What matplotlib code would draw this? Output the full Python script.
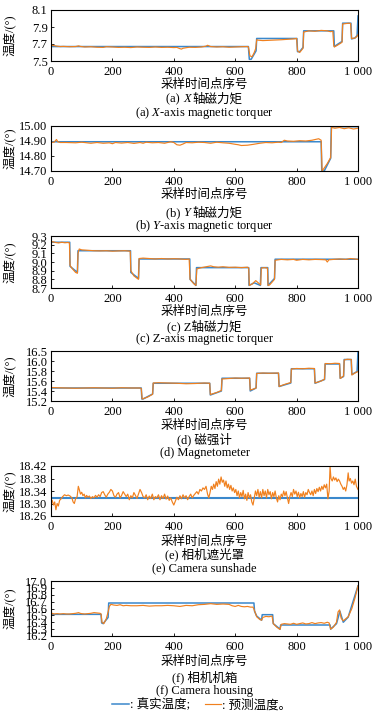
import numpy as np
import matplotlib
matplotlib.use('Agg')
import matplotlib.pyplot as plt

plt.rcParams['font.family'] = ['Liberation Serif', 'Noto Sans CJK SC']
plt.rcParams['mathtext.fontset'] = 'custom'
plt.rcParams['mathtext.rm'] = 'Liberation Serif'
plt.rcParams['mathtext.it'] = 'Liberation Serif:italic'
plt.rcParams['font.size'] = 9
plt.rcParams['axes.unicode_minus'] = False

# ---------------- data ----------------
x_ticks = [0, 200, 400, 600, 800, 1000]
x_ticklabels = ['0', '200', '400', '600', '800', '1 000']

# (a) X-axis magnetic torquer
a_true_x = [0, 643, 646, 652, 668, 670, 801, 803, 810, 821, 823, 921, 923, 935, 948, 950, 977, 979, 990, 997, 1000]
a_true_y = [7.67, 7.67, 7.52, 7.52, 7.62, 7.765, 7.765, 7.61, 7.61, 7.66, 7.855, 7.855, 7.67, 7.70, 7.73, 7.945, 7.945, 7.76, 7.77, 7.80, 8.03]
a_pred_x = [0, 5, 10, 20, 30, 40, 60, 80, 90, 95, 110, 130, 150, 170, 180, 200, 220, 240, 260, 280, 300, 320, 340, 360,
            380, 400, 410, 420, 425, 430, 450, 470, 490, 505, 510, 520, 540, 560, 580, 600, 620, 640, 643, 648, 655, 662,
            667, 670, 675, 690, 720, 750, 770, 790, 800, 803, 810, 821, 823, 840, 860, 880, 900, 910, 918, 921, 923, 935,
            948, 950, 960, 970, 976, 979, 990, 997, 1000]
a_pred_y = [7.675, 7.685, 7.68, 7.675, 7.67, 7.672, 7.668, 7.67, 7.678, 7.672, 7.665, 7.668, 7.662, 7.66, 7.668, 7.665,
            7.66, 7.662, 7.658, 7.665, 7.662, 7.66, 7.665, 7.66, 7.662, 7.658, 7.66, 7.645, 7.64, 7.65, 7.662, 7.66,
            7.665, 7.675, 7.685, 7.67, 7.665, 7.668, 7.662, 7.665, 7.668, 7.67, 7.665, 7.56, 7.55, 7.60, 7.65, 7.75,
            7.745, 7.74, 7.745, 7.75, 7.755, 7.76, 7.765, 7.62, 7.60, 7.65, 7.84, 7.855, 7.85, 7.86, 7.855, 7.845,
            7.85, 7.68, 7.665, 7.69, 7.72, 7.935, 7.94, 7.945, 7.94, 7.765, 7.77, 7.79, 7.81]

# (b) Y-axis magnetic torquer
b_true_x = [0, 880, 882, 890, 911, 913, 1000]
b_true_y = [14.895, 14.895, 14.70, 14.70, 14.785, 14.995, 14.995]
b_pred_x = [0, 10, 18, 22, 30, 50, 80, 100, 130, 150, 170, 190, 200, 210, 230, 250, 270, 290, 300, 310, 330, 350, 370,
            390, 400, 410, 420, 430, 440, 460, 480, 500, 520, 540, 560, 580, 600, 610, 620, 640, 660, 680, 700, 720,
            740, 750, 760, 770, 790, 810, 830, 850, 865, 872, 880, 883, 890, 900, 911, 914, 925, 940, 955, 970, 985, 1000]
b_pred_y = [14.89, 14.892, 14.91, 14.895, 14.89, 14.89, 14.888, 14.892, 14.885, 14.89, 14.885, 14.888, 14.882, 14.89,
            14.886, 14.89, 14.884, 14.89, 14.885, 14.892, 14.888, 14.89, 14.885, 14.895, 14.89, 14.875, 14.872, 14.88,
            14.89, 14.888, 14.892, 14.89, 14.885, 14.892, 14.888, 14.885, 14.878, 14.875, 14.87, 14.872, 14.878,
            14.885, 14.89, 14.888, 14.892, 14.89, 14.905, 14.9, 14.898, 14.902, 14.9, 14.905, 14.912, 14.915, 14.905,
            14.70, 14.72, 14.75, 14.79, 14.99, 14.985, 14.99, 14.982, 14.988, 14.98, 14.985]

# (c) Z-axis magnetic torquer
c_true_x = [0, 61, 62, 86, 88, 259, 260, 285, 287, 452, 453, 472, 474, 644, 645, 662, 682, 684, 706, 707, 728, 730, 1000]
c_true_y = [9.228, 9.228, 8.95, 8.88, 9.13, 9.13, 8.88, 8.81, 9.035, 9.035, 8.80, 8.73, 8.935, 8.935, 8.73, 8.76, 8.73,
            8.935, 8.935, 8.73, 8.81, 9.032, 9.032]
c_pred_x = [0, 5, 15, 25, 35, 45, 55, 60, 62, 70, 80, 86, 88, 92, 100, 120, 140, 160, 180, 200, 220, 240, 258, 260, 270,
            285, 287, 300, 320, 340, 360, 380, 400, 420, 440, 450, 453, 465, 472, 475, 490, 505, 520, 530, 545, 560,
            580, 600, 620, 640, 644, 646, 655, 667, 675, 683, 685, 695, 705, 707, 712, 728, 730, 750, 770, 790, 800,
            820, 840, 860, 880, 895, 900, 905, 920, 940, 960, 975, 990, 1000]
c_pred_y = [9.22, 9.235, 9.225, 9.22, 9.228, 9.222, 9.225, 9.22, 8.96, 8.92, 8.88, 8.87, 9.10, 9.15, 9.14, 9.135, 9.13,
            9.128, 9.13, 9.125, 9.128, 9.13, 9.125, 8.90, 8.84, 8.80, 9.04, 9.045, 9.04, 9.035, 9.04, 9.035, 9.038,
            9.035, 9.03, 9.035, 8.80, 8.75, 8.73, 8.92, 8.935, 8.945, 8.955, 8.945, 8.94, 8.945, 8.938, 8.94, 8.935,
            8.94, 8.93, 8.73, 8.745, 8.785, 8.76, 8.735, 8.93, 8.935, 8.93, 8.73, 8.735, 8.80, 9.02, 9.03, 9.025, 9.03,
            9.02, 9.03, 9.025, 9.03, 9.028, 9.025, 9.00, 9.025, 9.03, 9.035, 9.03, 9.04, 9.035, 9.03]

# (d) Magnetometer
d_true_x = [0, 294, 296, 300, 331, 333, 517, 519, 555, 557, 647, 649, 668, 670, 741, 743, 781, 783, 858, 860, 891, 893,
            940, 942, 953, 955, 978, 980, 997, 1000]
d_true_y = [15.46, 15.46, 15.24, 15.24, 15.34, 15.555, 15.555, 15.32, 15.40, 15.655, 15.655, 15.40, 15.46, 15.755,
            15.755, 15.49, 15.56, 15.845, 15.845, 15.555, 15.63, 15.94, 15.94, 15.655, 15.69, 16.03, 16.03, 15.73,
            15.79, 16.2]
d_pred_x = [0, 20, 50, 80, 110, 140, 170, 200, 230, 260, 290, 294, 297, 315, 331, 333, 350, 380, 410, 440, 470, 500,
            517, 519, 540, 555, 557, 580, 600, 620, 647, 649, 660, 668, 670, 690, 710, 741, 743, 760, 781, 783, 800,
            820, 840, 858, 860, 880, 891, 893, 910, 925, 940, 942, 953, 955, 965, 978, 980, 990, 1000]
d_pred_y = [15.47, 15.465, 15.46, 15.455, 15.46, 15.465, 15.46, 15.455, 15.465, 15.46, 15.46, 15.45, 15.24, 15.28,
            15.335, 15.56, 15.565, 15.56, 15.555, 15.545, 15.55, 15.56, 15.555, 15.33, 15.37, 15.41, 15.64, 15.65,
            15.66, 15.655, 15.66, 15.42, 15.44, 15.46, 15.75, 15.76, 15.755, 15.76, 15.49, 15.53, 15.57, 15.84, 15.85,
            15.845, 15.855, 15.85, 15.56, 15.6, 15.635, 15.95, 15.945, 15.955, 15.95, 15.65, 15.70, 16.02, 16.035,
            16.03, 15.72, 15.76, 15.79]

# (e) Camera sunshade
e_true_x = [0, 1000]
e_true_y = [18.318, 18.318]
e_pred_x = [0, 4, 8, 12, 16, 20, 24, 28, 33, 38, 44, 50, 56, 62, 68, 72, 76, 80, 85, 89, 92, 96, 100, 104, 108, 112,
            116, 120, 125, 130, 135, 140, 145, 150, 155, 160, 165, 170, 175, 180, 185, 190, 195, 200, 205, 210, 215,
            220, 225, 230, 235, 240, 245, 250, 255, 260, 265, 270, 275, 280, 285, 290, 295, 300, 305, 310, 315, 320,
            325, 330, 335, 340, 345, 350, 355, 360, 365, 370, 375, 380, 385, 390, 395, 400, 405, 410, 415, 420, 425,
            430, 435, 440, 445, 450, 455, 460, 465, 470, 475, 480, 485, 490, 495, 500, 505, 510, 514, 518, 522, 526,
            530, 534, 538, 542, 546, 550, 554, 558, 562, 566, 570, 574, 578, 582, 586, 590, 594, 598, 602, 606, 610,
            614, 618, 622, 626, 630, 634, 638, 642, 646, 650, 654, 658, 662, 666, 670, 674, 678, 682, 686, 690, 694,
            698, 702, 706, 710, 714, 718, 722, 726, 730, 734, 738, 742, 746, 750, 754, 758, 762, 766, 770, 774, 778,
            782, 786, 790, 794, 798, 802, 806, 810, 814, 818, 822, 826, 830, 834, 838, 842, 846, 850, 854, 858, 862,
            866, 870, 874, 878, 882, 886, 890, 894, 898, 902, 906, 909, 912, 916, 920, 924, 928, 932, 936, 940, 944,
            948, 952, 956, 960, 964, 968, 971, 975, 979, 983, 987, 991, 995, 1000]
e_pred_y = [18.300, 18.310, 18.295, 18.305, 18.280, 18.300, 18.292, 18.310, 18.315, 18.322, 18.328, 18.325, 18.327,
            18.324, 18.318, 18.305, 18.300, 18.315, 18.322, 18.355, 18.345, 18.330, 18.336, 18.325, 18.330, 18.318,
            18.326, 18.320, 18.324, 18.316, 18.322, 18.318, 18.326, 18.320, 18.328, 18.322, 18.335, 18.338, 18.328,
            18.320, 18.330, 18.336, 18.345, 18.340, 18.325, 18.320, 18.330, 18.335, 18.318, 18.326, 18.338, 18.330,
            18.322, 18.330, 18.312, 18.325, 18.318, 18.335, 18.326, 18.316, 18.330, 18.345, 18.335, 18.322, 18.318,
            18.328, 18.312, 18.324, 18.316, 18.330, 18.312, 18.322, 18.318, 18.328, 18.312, 18.325, 18.316, 18.330,
            18.314, 18.324, 18.310, 18.318, 18.305, 18.295, 18.308, 18.320, 18.312, 18.325, 18.315, 18.328, 18.318,
            18.325, 18.312, 18.322, 18.330, 18.318, 18.326, 18.332, 18.338, 18.330, 18.345, 18.340, 18.350, 18.345,
            18.355, 18.330, 18.318, 18.335, 18.355, 18.345, 18.362, 18.348, 18.370, 18.355, 18.378, 18.362, 18.385,
            18.368, 18.375, 18.355, 18.372, 18.350, 18.362, 18.345, 18.358, 18.340, 18.350, 18.335, 18.345, 18.325,
            18.340, 18.318, 18.335, 18.322, 18.342, 18.315, 18.330, 18.310, 18.335, 18.318, 18.328, 18.305, 18.295,
            18.318, 18.340, 18.325, 18.345, 18.320, 18.338, 18.318, 18.345, 18.325, 18.340, 18.318, 18.345, 18.328,
            18.338, 18.315, 18.335, 18.322, 18.340, 18.318, 18.305, 18.325, 18.312, 18.330, 18.322, 18.340, 18.325,
            18.338, 18.318, 18.300, 18.322, 18.335, 18.322, 18.345, 18.330, 18.340, 18.322, 18.336, 18.318, 18.332,
            18.322, 18.338, 18.320, 18.335, 18.328, 18.345, 18.335, 18.328, 18.340, 18.325, 18.345, 18.332, 18.348,
            18.338, 18.352, 18.340, 18.355, 18.345, 18.360, 18.350, 18.362, 18.315, 18.340, 18.418, 18.380, 18.372,
            18.385, 18.375, 18.382, 18.370, 18.378, 18.372, 18.362, 18.355, 18.345, 18.352, 18.340, 18.360, 18.398,
            18.372, 18.380, 18.365, 18.372, 18.360, 18.378, 18.355, 18.345]

# (f) Camera housing
f_true_x = [0, 163, 165, 170, 186, 188, 661, 663, 670, 686, 688, 722, 724, 746, 748, 909, 911, 930, 941, 952, 968, 1000]
f_true_y = [16.515, 16.515, 16.39, 16.38, 16.47, 16.68, 16.68, 16.56, 16.49, 16.43, 16.51, 16.51, 16.38, 16.30, 16.36,
            16.36, 16.30, 16.38, 16.56, 16.40, 16.475, 16.93]
f_pred_x = [0, 5, 10, 20, 30, 40, 50, 60, 70, 80, 90, 95, 100, 110, 120, 130, 140, 150, 160, 163, 166, 172, 180, 186,
            190, 195, 205, 215, 225, 235, 245, 260, 280, 300, 320, 340, 360, 380, 400, 420, 440, 460, 480, 500, 520,
            530, 540, 560, 580, 590, 600, 610, 620, 630, 640, 650, 658, 662, 670, 680, 686, 690, 700, 710, 720, 724,
            735, 746, 750, 760, 770, 780, 790, 800, 810, 820, 830, 840, 850, 860, 870, 880, 890, 900, 906, 911, 920,
            930, 935, 940, 945, 952, 968, 980, 990, 1000]
f_pred_y = [16.50, 16.53, 16.52, 16.525, 16.52, 16.525, 16.52, 16.52, 16.525, 16.53, 16.54, 16.53, 16.525, 16.52,
            16.525, 16.53, 16.54, 16.535, 16.53, 16.52, 16.40, 16.38, 16.45, 16.55, 16.63, 16.66, 16.65, 16.645,
            16.655, 16.64, 16.645, 16.64, 16.64, 16.645, 16.635, 16.64, 16.64, 16.645, 16.64, 16.63, 16.645, 16.64,
            16.655, 16.66, 16.67, 16.665, 16.66, 16.665, 16.66, 16.64, 16.63, 16.645, 16.63, 16.625, 16.63, 16.62,
            16.62, 16.58, 16.48, 16.44, 16.43, 16.47, 16.485, 16.48, 16.49, 16.38, 16.33, 16.295, 16.37, 16.38,
            16.375, 16.37, 16.385, 16.37, 16.38, 16.39, 16.375, 16.38, 16.395, 16.38, 16.39, 16.395, 16.385, 16.40,
            16.39, 16.30, 16.33, 16.40, 16.55, 16.58, 16.46, 16.42, 16.48, 16.60, 16.75, 16.93]

a_yticks = [7.5, 7.7, 7.9, 8.1]
a_yticklabels = ['7.5', '7.7', '7.9', '8.1']
b_yticks = [14.70, 14.80, 14.90, 15.00]
b_yticklabels = ['14.70', '14.80', '14.90', '15.00']
c_yticks = [8.7, 8.8, 8.9, 9.0, 9.1, 9.2, 9.3]
c_yticklabels = ['8.7', '8.8', '8.9', '9.0', '9.1', '9.2', '9.3']
d_yticks = [15.2, 15.4, 15.6, 15.8, 16.0, 16.2]
d_yticklabels = ['15.2', '15.4', '15.6', '15.8', '16.0', '16.5']
e_yticks = [18.26, 18.30, 18.34, 18.38, 18.42]
e_yticklabels = ['18.26', '18.30', '18.34', '18.38', '18.42']
f_yticks = [16.2, 16.3, 16.4, 16.5, 16.6, 16.7, 16.8, 16.9, 17.0]
f_yticklabels = ['16.2', '16.3', '16.4', '16.5', '16.6', '16.7', '16.8', '16.9', '17.0']

# Chinese captions as (text, font style) pieces, so the italic axis letter can sit among CJK text
captions_cn = [
    [('(a) ', 'normal'), ('X', 'italic'), ('轴磁力矩', 'normal')],
    [('(b) ', 'normal'), ('Y', 'italic'), ('轴磁力矩', 'normal')],
    [('(c) Z轴磁力矩', 'normal')],
    [('(d) 磁强计', 'normal')],
    [('(e) 相机遮光罩', 'normal')],
    [('(f) 相机机箱', 'normal')],
]
captions_en = ['(a) $X$-axis magnetic torquer', '(b) $Y$-axis magnetic torquer', '(c) Z-axis magnetic torquer',
               '(d) Magnetometer', '(e) Camera sunshade', '(f) Camera housing']
x_label = '采样时间点序号'
y_label = '温度/(°)'
legend_labels = [': 真实温度;', ': 预测温度。']

# ---------------- layout (pixels) ----------------
W, H = 377, 715
ax_left, ax_right = 51, 358
ax_boxes = [(10, 61), (126, 171), (236, 288), (351, 401), (466, 516), (581, 636)]
xlabel_y = [85, 195, 312, 426, 542, 662]
cap1_y = [99, 213, 326, 439, 554, 677]
cap2_y = [113, 226, 339, 453, 568, 691]
legend_y = 705

blue = '#3a88cc'
orange = '#f0801e'

panels = [
    (a_true_x, a_true_y, a_pred_x, a_pred_y, (7.5, 8.1), a_yticks, a_yticklabels),
    (b_true_x, b_true_y, b_pred_x, b_pred_y, (14.70, 15.00), b_yticks, b_yticklabels),
    (c_true_x, c_true_y, c_pred_x, c_pred_y, (8.7, 9.3), c_yticks, c_yticklabels),
    (d_true_x, d_true_y, d_pred_x, d_pred_y, (15.2, 16.2), d_yticks, d_yticklabels),
    (e_true_x, e_true_y, e_pred_x, e_pred_y, (18.26, 18.42), e_yticks, e_yticklabels),
    (f_true_x, f_true_y, f_pred_x, f_pred_y, (16.2, 17.0), f_yticks, f_yticklabels),
]

fig = plt.figure(figsize=(W / 100, H / 100), dpi=100)
renderer = fig.canvas.get_renderer()
cx_px = (ax_left + ax_right) / 2
cx = cx_px / W


def centered_pieces(y_px, pieces):
    texts = [fig.text(0, 1 - y_px / H, s, style=st, ha='left', va='center', fontsize=9)
             for s, st in pieces]
    widths = [t.get_window_extent(renderer).width + (2.0 if st == 'italic' else 0.0)
              for t, (s, st) in zip(texts, pieces)]
    x0 = cx_px - sum(widths) / 2
    for t, w in zip(texts, widths):
        t.set_x(x0 / W)
        x0 += w


handles = None
for i, (tx, ty, px, py, ylim, yt, ytl) in enumerate(panels):
    top, bot = ax_boxes[i]
    ax = fig.add_axes([ax_left / W, 1 - bot / H, (ax_right - ax_left) / W, (bot - top) / H])
    lt, = ax.plot(tx, ty, color=blue, lw=1.1 if i != 4 else 1.5)
    lp, = ax.plot(px, py, color=orange, lw=0.85)
    handles = [lt, lp]
    ax.set_xlim(0, 1000)
    ax.set_ylim(*ylim)
    ax.set_xticks(x_ticks, x_ticklabels)
    ax.set_yticks(yt, ytl)
    ax.tick_params(direction='in', length=2.5, width=0.6, labelsize=9, top=False, right=False)
    ax.tick_params(axis='x', pad=3.5)
    ax.tick_params(axis='y', pad=2.5)
    for s in ax.spines.values():
        s.set_linewidth(0.8)
    ax.set_xlabel(x_label, fontsize=9)
    ax.xaxis.set_label_coords(cx, 1 - xlabel_y[i] / H, transform=fig.transFigure)
    ax.xaxis.label.set_va('center')
    ax.set_ylabel(y_label, fontsize=9)
    ax.yaxis.set_label_coords(10 / W, 1 - (top + bot) / 2 / H, transform=fig.transFigure)
    ax.yaxis.label.set_va('center')
    centered_pieces(cap1_y[i], captions_cn[i])
    fig.text(cx, 1 - cap2_y[i] / H, captions_en[i], ha='center', va='center', fontsize=9)

fig.legend(handles, legend_labels, loc='center', bbox_to_anchor=(202 / W, 1 - legend_y / H),
           ncol=2, frameon=False, fontsize=9, handlelength=1.3, handletextpad=0.1,
           columnspacing=1.2, borderpad=0, borderaxespad=0)

fig.savefig('out.png', dpi=100)
